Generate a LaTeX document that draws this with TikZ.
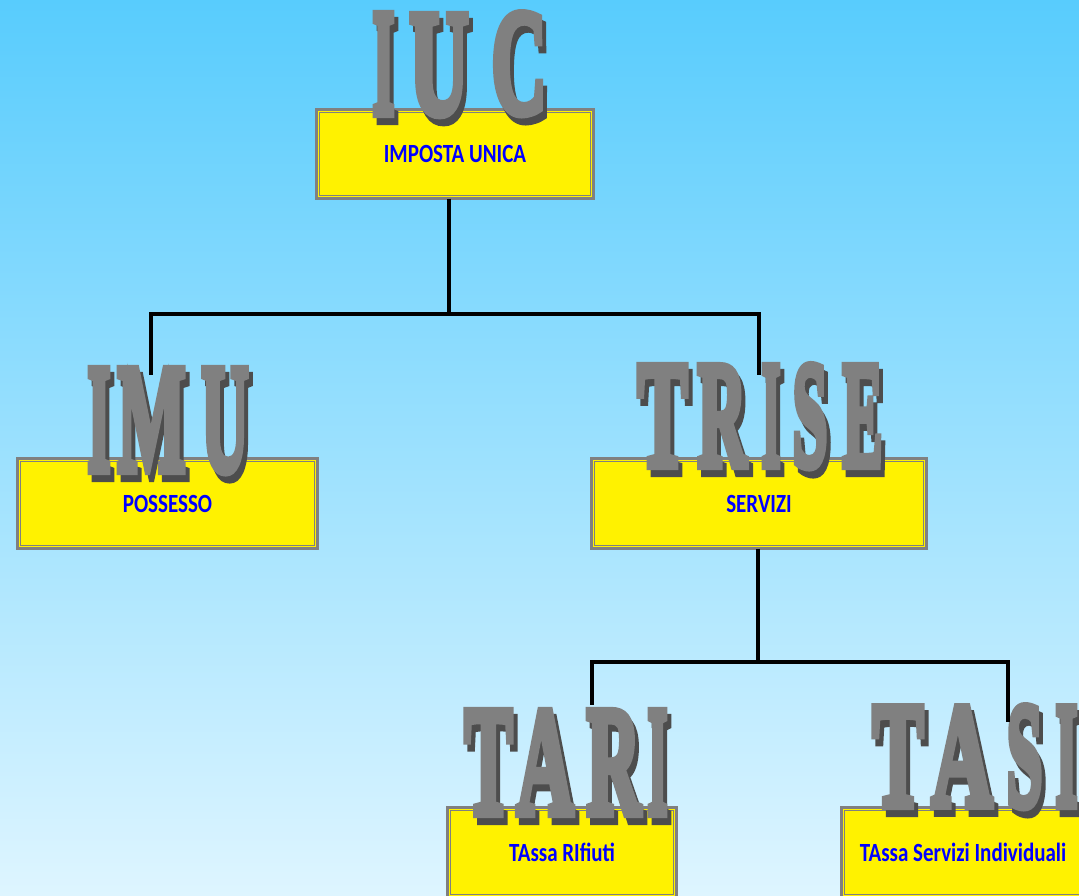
\documentclass[tikz,border=0pt]{standalone}
\usepackage{fontspec}
\usepackage{graphicx}
\setmainfont{Carlito}
\newfontfamily\bigfont{Liberation Serif}[BoldFeatures={FakeBold=6}]
\definecolor{bgtop}{RGB}{88,204,253}
\definecolor{bgbot}{RGB}{222,245,255}
\definecolor{boxgray}{RGB}{128,128,128}
\definecolor{lettergray}{RGB}{128,128,128}
\definecolor{shadowgray}{RGB}{77,77,77}
\definecolor{textblue}{RGB}{0,0,255}
\tikzset{
  taxbox/.style={fill=yellow, draw=boxgray, line width=3pt, inner sep=0pt, outer sep=0pt},
  innerline/.style={draw=boxgray, line width=1pt},
  bigmain/.style={anchor=north west, inner sep=0pt, outer sep=0pt, text=lettergray},
  bigshadow/.style={anchor=north west, inner sep=0pt, outer sep=0pt, text=shadowgray},
  conn/.style={draw=black, line width=4pt, line join=miter}
}
\newcommand\boxtext[1]{{\fontsize{21}{21}\selectfont\bfseries\color{textblue}\scalebox{1}[1.25]{#1}}}
% name, x, y, w, h, text
\newcommand\TaxBox[6]{%
  \node[taxbox, minimum width=#4pt, minimum height=#5pt] (#1) at (#2,#3) {\boxtext{#6}};
  \draw[innerline] ([shift={(3,3)}]#1.north west) rectangle ([shift={(-3,-3)}]#1.south east);
}
% name, letter, x, y, w, h
\newcommand\BigL[6]{%
  \pgfmathsetmacro\bigw{#5-3}%
  \pgfmathsetmacro\bigh{#6-9}%
  \node[bigshadow] (#1s) at (#3+5.5,#4+11.5) {\resizebox{\bigw pt}{\bigh pt}{\bigfont\bfseries #2}};
  \node[bigmain] (#1) at (#3+1.5,#4+4.5) {\resizebox{\bigw pt}{\bigh pt}{\bigfont\bfseries #2}};
}
\begin{document}
\begin{tikzpicture}[x=1pt,y=-1pt]
\useasboundingbox (0,0) rectangle (1079,895);
\clip (0,0) rectangle (1079,895);
\shade[top color=bgtop, bottom color=bgbot] (0,0) rectangle (1079,895);

\TaxBox{iuc}{455}{154}{277}{89}{IMPOSTA UNICA}
\TaxBox{imu}{167.5}{503.5}{300}{90}{POSSESSO}
\TaxBox{trise}{759}{503.5}{335}{90}{SERVIZI}
\TaxBox{tari}{562}{852.5}{229}{90}{TAssa RIfiuti}
\TaxBox{tasi}{963}{852.5}{243}{90}{TAssa Servizi Individuali}

% IUC
\BigL{iucI}{I}{371}{10}{25}{108}
\BigL{iucU}{U}{408}{11}{62}{107}
\BigL{iucC}{C}{490}{9}{58}{108}
% IMU
\BigL{imuI}{I}{86}{365}{26}{110}
\BigL{imuM}{M}{116}{365}{71}{110}
\BigL{imuU}{U}{200}{365}{50}{110}
% TRISE
\BigL{trT}{T}{636}{362}{53}{108}
\BigL{trR}{R}{696}{362}{52}{108}
\BigL{trI}{I}{760}{362}{22}{108}
\BigL{trS}{S}{791}{361}{38}{109}
\BigL{trE}{E}{841}{362}{43}{108}
% TARI
\BigL{taT}{T}{463}{707}{51}{111}
\BigL{taA}{A}{515}{707}{60}{111}
\BigL{taR}{R}{585}{707}{57}{111}
\BigL{taI}{I}{646}{707}{23}{111}
% TASI
\BigL{tsT}{T}{871}{703}{54}{107}
\BigL{tsA}{A}{930}{703}{64}{107}
\BigL{tsS}{S}{1005}{702}{39}{108}
\BigL{tsI}{I}{1054}{703}{25}{107}

% connectors
\coordinate (j1) at (449,314);
\coordinate (imutop) at (151,375);
\coordinate (trisetop) at (759,375);
\draw[conn] (iuc.south -| j1) -- (j1) -| (imutop);
\draw[conn] (j1) -| (trisetop);
\coordinate (j2) at (758,662);
\coordinate (taritop) at (592,705);
\coordinate (tasitop) at (1008,722);
\draw[conn] (trise.south -| j2) -- (j2) -| (taritop);
\draw[conn] (j2) -| (tasitop);
\end{tikzpicture}
\end{document}
